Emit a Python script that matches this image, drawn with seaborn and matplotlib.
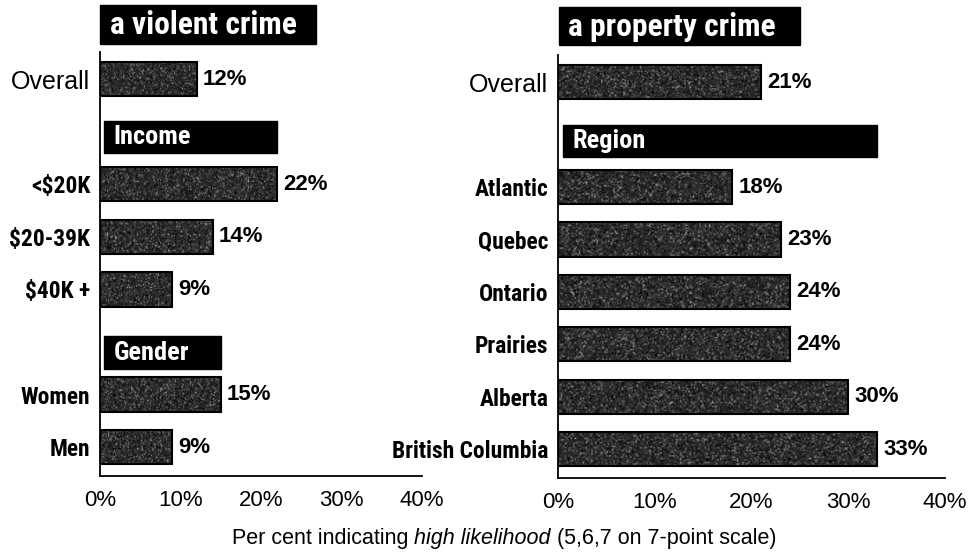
import numpy as np
import pandas as pd
import matplotlib
matplotlib.use("Agg")
import matplotlib.pyplot as plt
from matplotlib.patches import Rectangle
from matplotlib import font_manager as fm
import seaborn as sns

# ---- data -------------------------------------------------------------
violent_labels = ["Overall", "<$20K", "$20-39K", "$40K +", "Women", "Men"]
violent_values = [12, 22, 14, 9, 15, 9]
violent_groups = [None, "Income", "Income", "Income", "Gender", "Gender"]

property_labels = ["Overall", "Atlantic", "Quebec", "Ontario", "Prairies",
                   "Alberta", "British Columbia"]
property_values = [21, 18, 23, 24, 24, 30, 33]
property_groups = [None, "Region", "Region", "Region", "Region", "Region", "Region"]

panel_titles = ["a violent crime", "a property crime"]
x_ticks = [0, 10, 20, 30, 40]
x_tick_labels = ["0%", "10%", "20%", "30%", "40%"]
x_label_parts = ["Per cent indicating ", "high likelihood", " (5,6,7 on 7-point scale)"]

# ---- style ------------------------------------------------------------
sns.set_theme(style="white")
plt.rcParams["font.family"] = ["Liberation Sans", "DejaVu Sans"]

W, H = 969, 552
fig = plt.figure(figsize=(W / 100, H / 100), dpi=100)
fig.patch.set_facecolor("white")
renderer = fig.canvas.get_renderer()


def fx(px):
    return px / W


def fy(py):
    return 1 - py / H


def _is_bold(w):
    if isinstance(w, (int, float)):
        return w >= 600
    return str(w).lower() in ("bold", "semibold", "demibold", "heavy", "black", "extra bold")


def narrow_bold_font():
    """Pick a condensed bold face if one is installed, else plain bold."""
    prefs = ["Liberation Sans Narrow", "Arial Narrow", "Roboto Condensed",
             "Open Sans Condensed", "Noto Sans Condensed", "DejaVu Sans"]
    found = {}
    for f in fm.fontManager.ttflist:
        narrow = ("Narrow" in f.name or "Condensed" in f.name
                  or str(f.stretch) in ("condensed", "semi-condensed",
                                        "extra-condensed", "ultra-condensed"))
        if narrow and _is_bold(f.weight) and f.style == "normal":
            found.setdefault(f.name, f.fname)
    for p in prefs:
        if p in found:
            return fm.FontProperties(fname=found[p])
    if found:
        return fm.FontProperties(fname=next(iter(found.values())))
    return fm.FontProperties(family="Liberation Sans", weight="bold")


def fit_size(prop, pairs):
    """Font size whose rendered widths best match the wanted pixel widths."""
    p = prop.copy()
    p.set_size(10)
    sizes = []
    for s, px in pairs:
        w, _, _ = renderer.get_text_width_height_descent(s, p, ismath=False)
        sizes.append(10 * px / w)
    return float(np.median(sizes))


narrow = narrow_bold_font()
label_prop = narrow.copy()
label_prop.set_size(min(fit_size(narrow, [("British Columbia", 157), ("<$20K", 61),
                                          ("Women", 72), ("Alberta", 67),
                                          ("$20-39K", 77)]), 18))
header_prop = narrow.copy()
header_prop.set_size(min(fit_size(narrow, [("Income", 77), ("Region", 74),
                                           ("Gender", 75)]), 19))
title_prop = narrow.copy()
title_prop.set_size(min(fit_size(narrow, [("a violent crime", 187),
                                          ("a property crime", 207)]), 24))


def build_rows(labels, values, groups):
    """Give every bar a row slot; each new group gets a header row first."""
    rows, headers = [], []
    slot, prev = 0, None
    for lab, val, grp in zip(labels, values, groups):
        if grp is not None and grp != prev:
            headers.append((grp, slot))
            slot += 1
        rows.append({"label": lab, "value": val, "group": grp, "slot": slot})
        slot += 1
        prev = grp
    return pd.DataFrame(rows), headers


rng = np.random.default_rng(11)


def add_grain(ax):
    """Overlay a speckled dark texture on every bar."""
    for patch in list(ax.patches):
        x0, y0 = patch.get_x(), patch.get_y()
        w, h = patch.get_width(), patch.get_height()
        nx = max(int(w * 7), 2)
        ny = 26
        base = 0.15 + 0.06 * rng.standard_normal((ny, nx))
        speck = (rng.random((ny, nx)) < 0.2) * rng.random((ny, nx)) * 0.4
        tex = np.clip(base + speck, 0, 1)
        ax.imshow(tex, extent=(x0, x0 + w, y0 + h, y0), cmap="gray",
                  vmin=0, vmax=1, aspect="auto", interpolation="bilinear",
                  zorder=2)
        patch.set_facecolor("none")
        patch.set_edgecolor("black")
        patch.set_linewidth(1.5)
        patch.set_zorder(3)


def draw_panel(ax, labels, values, groups, title, title_box, title_x,
               header_shift):
    df, headers = build_rows(labels, values, groups)
    sns.barplot(data=df, x="value", y="slot", orient="h", native_scale=True,
                width=0.65, color="#2a2a2a", ax=ax)
    add_grain(ax)

    # value labels at the end of each bar
    for _, r in df.iterrows():
        ax.annotate(f"{r['value']}%", xy=(r["value"], r["slot"]),
                    xytext=(4.5, 0), textcoords="offset points",
                    ha="left", va="center", fontsize=16, fontweight="bold",
                    color="black", zorder=5)

    # group header boxes span to the largest bar in the group
    for name, slot in headers:
        gmax = df.loc[df["group"] == name, "value"].max()
        yc = slot + header_shift.get(name, 0.12)
        ax.add_patch(Rectangle((0.5, yc - 0.31), gmax - 0.5, 0.62,
                               facecolor="black", edgecolor="black",
                               zorder=4, clip_on=False))
        ax.annotate(name, xy=(0.5, yc), xytext=(7, 0),
                    textcoords="offset points", ha="left", va="center",
                    fontproperties=header_prop, color="white", zorder=5)

    ax.set_xlim(0, 40)
    ax.set_ylim(7.55, -0.52)
    ax.set_xticks(x_ticks)
    ax.set_xticklabels(x_tick_labels, fontsize=16)
    ax.set_yticks(df["slot"].tolist())
    ax.set_yticklabels(df["label"].tolist())
    for tl, lab in zip(ax.get_yticklabels(), df["label"]):
        if lab == "Overall":
            tl.set_fontproperties(fm.FontProperties(family="Liberation Sans",
                                                    size=18))
        else:
            tl.set_fontproperties(label_prop)
    ax.tick_params(axis="y", length=0, pad=7, colors="black")
    ax.tick_params(axis="x", direction="in", length=6, width=1.2,
                   pad=10, colors="black")
    ax.set_xlabel("")
    ax.set_ylabel("")
    ax.grid(False)
    for side in ("top", "right"):
        ax.spines[side].set_visible(False)
    for side in ("left", "bottom"):
        ax.spines[side].set_color("black")
        ax.spines[side].set_linewidth(1.3)
    ax.set_facecolor("white")

    # panel title in a black box above the axes
    bx, by, bw, bh = title_box
    fig.patches.append(Rectangle((fx(bx), fy(by + bh)), bw / W, bh / H,
                                 transform=fig.transFigure, facecolor="black",
                                 edgecolor="black", zorder=1))
    fig.text(fx(title_x), fy(by + bh / 2 + 1), title, ha="left", va="center",
             fontproperties=title_prop, color="white", zorder=2)


ax_left = fig.add_axes([fx(100), fy(476), 322 / W, 424 / H])
ax_right = fig.add_axes([fx(558), fy(478), 387 / W, 423 / H])

draw_panel(ax_left, violent_labels, violent_values, violent_groups,
           panel_titles[0], (100, 5, 216, 39), 110,
           {"Income": 0.1, "Gender": 0.2})
draw_panel(ax_right, property_labels, property_values, property_groups,
           panel_titles[1], (559, 7, 241, 38), 568,
           {"Region": 0.12})

# shared x-axis caption with an italic phrase in the middle
fig.canvas.draw()
renderer = fig.canvas.get_renderer()
x_cursor = fx(232)
y_base = fy(544)
for part, st in zip(x_label_parts, ["normal", "italic", "normal"]):
    t = fig.text(x_cursor, y_base, part, ha="left", va="baseline",
                 fontsize=15.5, fontstyle=st, color="black")
    bb = t.get_window_extent(renderer=renderer)
    x_cursor = fig.transFigure.inverted().transform((bb.x1, bb.y0))[0]

fig.savefig("out.png", dpi=100, facecolor="white")
